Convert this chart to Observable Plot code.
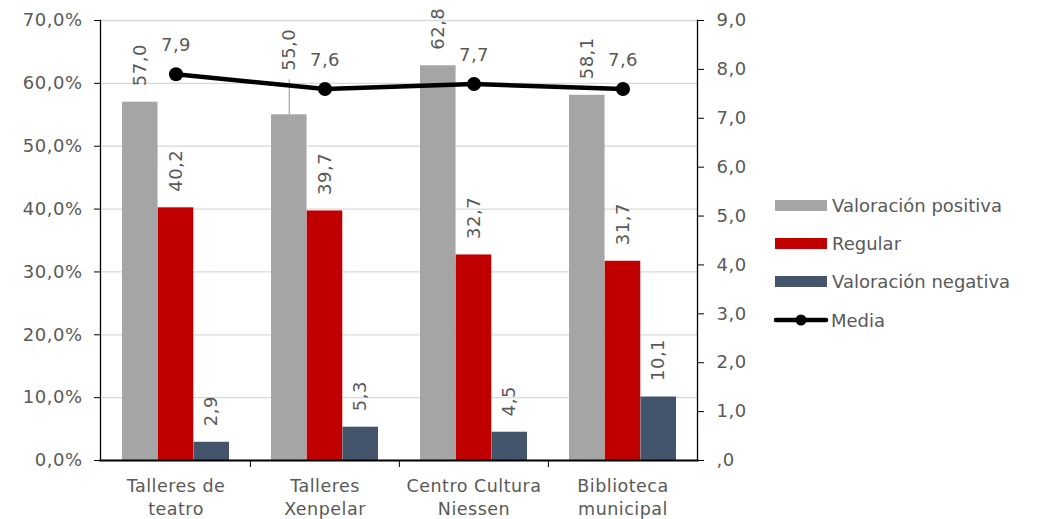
<!DOCTYPE html>
<html>
<head>
<meta charset="utf-8">
<script src="https://cdn.jsdelivr.net/npm/d3@7"></script>
<script src="https://cdn.jsdelivr.net/npm/@observablehq/plot@0.6"></script>
<style>
  html, body { margin: 0; padding: 0; background: #fff; }
  #wrap { position: relative; width: 1038px; height: 519px; font-family: "DejaVu Sans", Verdana, sans-serif; }
  #wrap svg text { letter-spacing: 0.5px; }
  #legend { position: absolute; left: 775px; top: 186px; color: #595959; font-size: 18px; }
  .li { display: flex; align-items: center; height: 38.4px; }
  .sw { width: 52px; height: 11px; margin-right: 5px; }
  .ln { width: 56px; height: 20px; margin-right: 2px; margin-left: -2px; }
</style>
</head>
<body>
<div id="wrap"><div id="legend"></div></div>
<script>
const categories = ["Talleres de\nteatro", "Talleres\nXenpelar", "Centro Cultura\nNiessen", "Biblioteca\nmunicipal"];
const seriesNames = ["Valoración positiva", "Regular", "Valoración negativa"];
const seriesColors = ["#a5a5a5", "#c00000", "#44546a"];
const positiva = [57.0, 55.0, 62.8, 58.1];
const regular = [40.2, 39.7, 32.7, 31.7];
const negativa = [2.9, 5.3, 4.5, 10.1];
const mediaName = "Media";
const media = [7.9, 7.6, 7.7, 7.6];
const leftTicks = [0, 10, 20, 30, 40, 50, 60, 70];
const leftTickLabels = ["0,0%", "10,0%", "20,0%", "30,0%", "40,0%", "50,0%", "60,0%", "70,0%"];
const rightTicks = [0, 1, 2, 3, 4, 5, 6, 7, 8, 9];
const rightTickLabels = [",0", "1,0", "2,0", "3,0", "4,0", "5,0", "6,0", "7,0", "8,0", "9,0"];

const yMax = 70, rMax = 9;
const toLeft = v => v * yMax / rMax;
const fmt = v => v.toFixed(1).replace(".", ",");

const width = 1038, height = 519;
const mL = 100, mR = 341, mT = 20, mB = 59;
const padIn = 0.282, padOut = 0.141;
const step = (width - mL - mR) / (categories.length - padIn + 2 * padOut);
const bw = step * (1 - padIn);
const third = bw / 3;

const seriesValues = [positiva, regular, negativa];
const rows = [];
seriesValues.forEach((vals, s) => vals.forEach((v, i) => rows.push({cat: categories[i], series: s, value: v})));
const mediaRows = media.map((v, i) => ({cat: categories[i], value: v}));

// label that was moved up with a leader line in the original
const liftedKey = "0|1", normalLift = 16, liftedLift = 44;

const textColor = "#595959";
const fontSize = 18;

const marks = [
  Plot.gridY(leftTicks, {stroke: "#d9d9d9", strokeOpacity: 1, strokeWidth: 1.3}),
];
seriesValues.forEach((vals, s) => {
  const data = rows.filter(r => r.series === s);
  marks.push(Plot.barY(data, {
    x: "cat", y: "value", fill: seriesColors[s],
    insetLeft: s * third, insetRight: (2 - s) * third
  }));
});
// leader line
rows.filter(r => `${r.series}|${categories.indexOf(r.cat)}` === liftedKey).forEach(r => {
  marks.push(Plot.ruleX([r], {x: "cat", y1: "value", y2: d => d.value + (liftedLift - 9) * yMax / (height - mT - mB), stroke: "#a5a5a5", strokeWidth: 1.2, dx: (r.series - 1) * third}));
});
seriesValues.forEach((vals, s) => {
  const data = rows.filter(r => r.series === s);
  const normal = data.filter(r => `${r.series}|${categories.indexOf(r.cat)}` !== liftedKey);
  const lifted = data.filter(r => `${r.series}|${categories.indexOf(r.cat)}` === liftedKey);
  const common = {x: "cat", y: "value", text: d => fmt(d.value), rotate: -90, textAnchor: "start",
    lineAnchor: "middle", fill: textColor, fontSize, dx: (s - 1) * third};
  marks.push(Plot.text(normal, {...common, dy: -normalLift}));
  if (lifted.length) marks.push(Plot.text(lifted, {...common, dy: -liftedLift}));
});
marks.push(
  Plot.line(mediaRows, {x: "cat", y: d => toLeft(d.value), stroke: "#000", strokeWidth: 4.5, strokeLinejoin: "round", strokeLinecap: "round"}),
  Plot.dot(mediaRows, {x: "cat", y: d => toLeft(d.value), r: 7, fill: "#000", stroke: "none"}),
  Plot.text(mediaRows, {x: "cat", y: d => toLeft(d.value), text: d => fmt(d.value), dy: -29, fill: textColor, fontSize}),
  Plot.axisY(leftTicks, {anchor: "left", tickSize: 6, tickPadding: 12, stroke: "#000", fill: textColor, fontSize,
    tickFormat: d => leftTickLabels[leftTicks.indexOf(d)]}),
  Plot.axisY(rightTicks.map(toLeft), {anchor: "right", tickSize: 6, tickPadding: 13, stroke: "#000", fill: textColor, fontSize,
    tickFormat: d => rightTickLabels[Math.round(d * rMax / yMax)]}),
  Plot.axisX(categories.slice(1), {anchor: "bottom", tickSize: 7, stroke: "#000", tickFormat: () => "", dx: -step / 2}),
  Plot.axisX({anchor: "bottom", tickSize: 0, tickPadding: 16, fill: textColor, fontSize: 17.5, lineHeight: 1.27, tickFormat: d => d}),
  Plot.frame({anchor: "left", stroke: "#000", strokeWidth: 1.3}),
  Plot.frame({anchor: "right", stroke: "#000", strokeWidth: 1.3}),
  Plot.frame({anchor: "bottom", stroke: "#000", strokeWidth: 2})
);

const chart = Plot.plot({
  width, height,
  marginLeft: mL, marginRight: mR, marginTop: mT, marginBottom: mB,
  style: {fontFamily: "\"DejaVu Sans\", Verdana, sans-serif", background: "#fff", overflow: "visible"},
  x: {type: "band", domain: categories, paddingInner: padIn, paddingOuter: padOut, label: null},
  y: {domain: [0, yMax], label: null},
  marks
});
document.getElementById("wrap").prepend(chart);

// legend
const legend = document.getElementById("legend");
seriesNames.forEach((name, s) => {
  const item = document.createElement("div");
  item.className = "li";
  item.innerHTML = `<div class="sw" style="background:${seriesColors[s]}"></div><span>${name}</span>`;
  legend.appendChild(item);
});
const mItem = document.createElement("div");
mItem.className = "li";
mItem.innerHTML = `<svg class="ln" viewBox="0 0 56 20"><line x1="3" y1="10" x2="53" y2="10" stroke="#000" stroke-width="4.5" stroke-linecap="round"/><circle cx="28" cy="10" r="5.5" fill="#000"/></svg><span>${mediaName}</span>`;
legend.appendChild(mItem);
</script>
</body>
</html>
